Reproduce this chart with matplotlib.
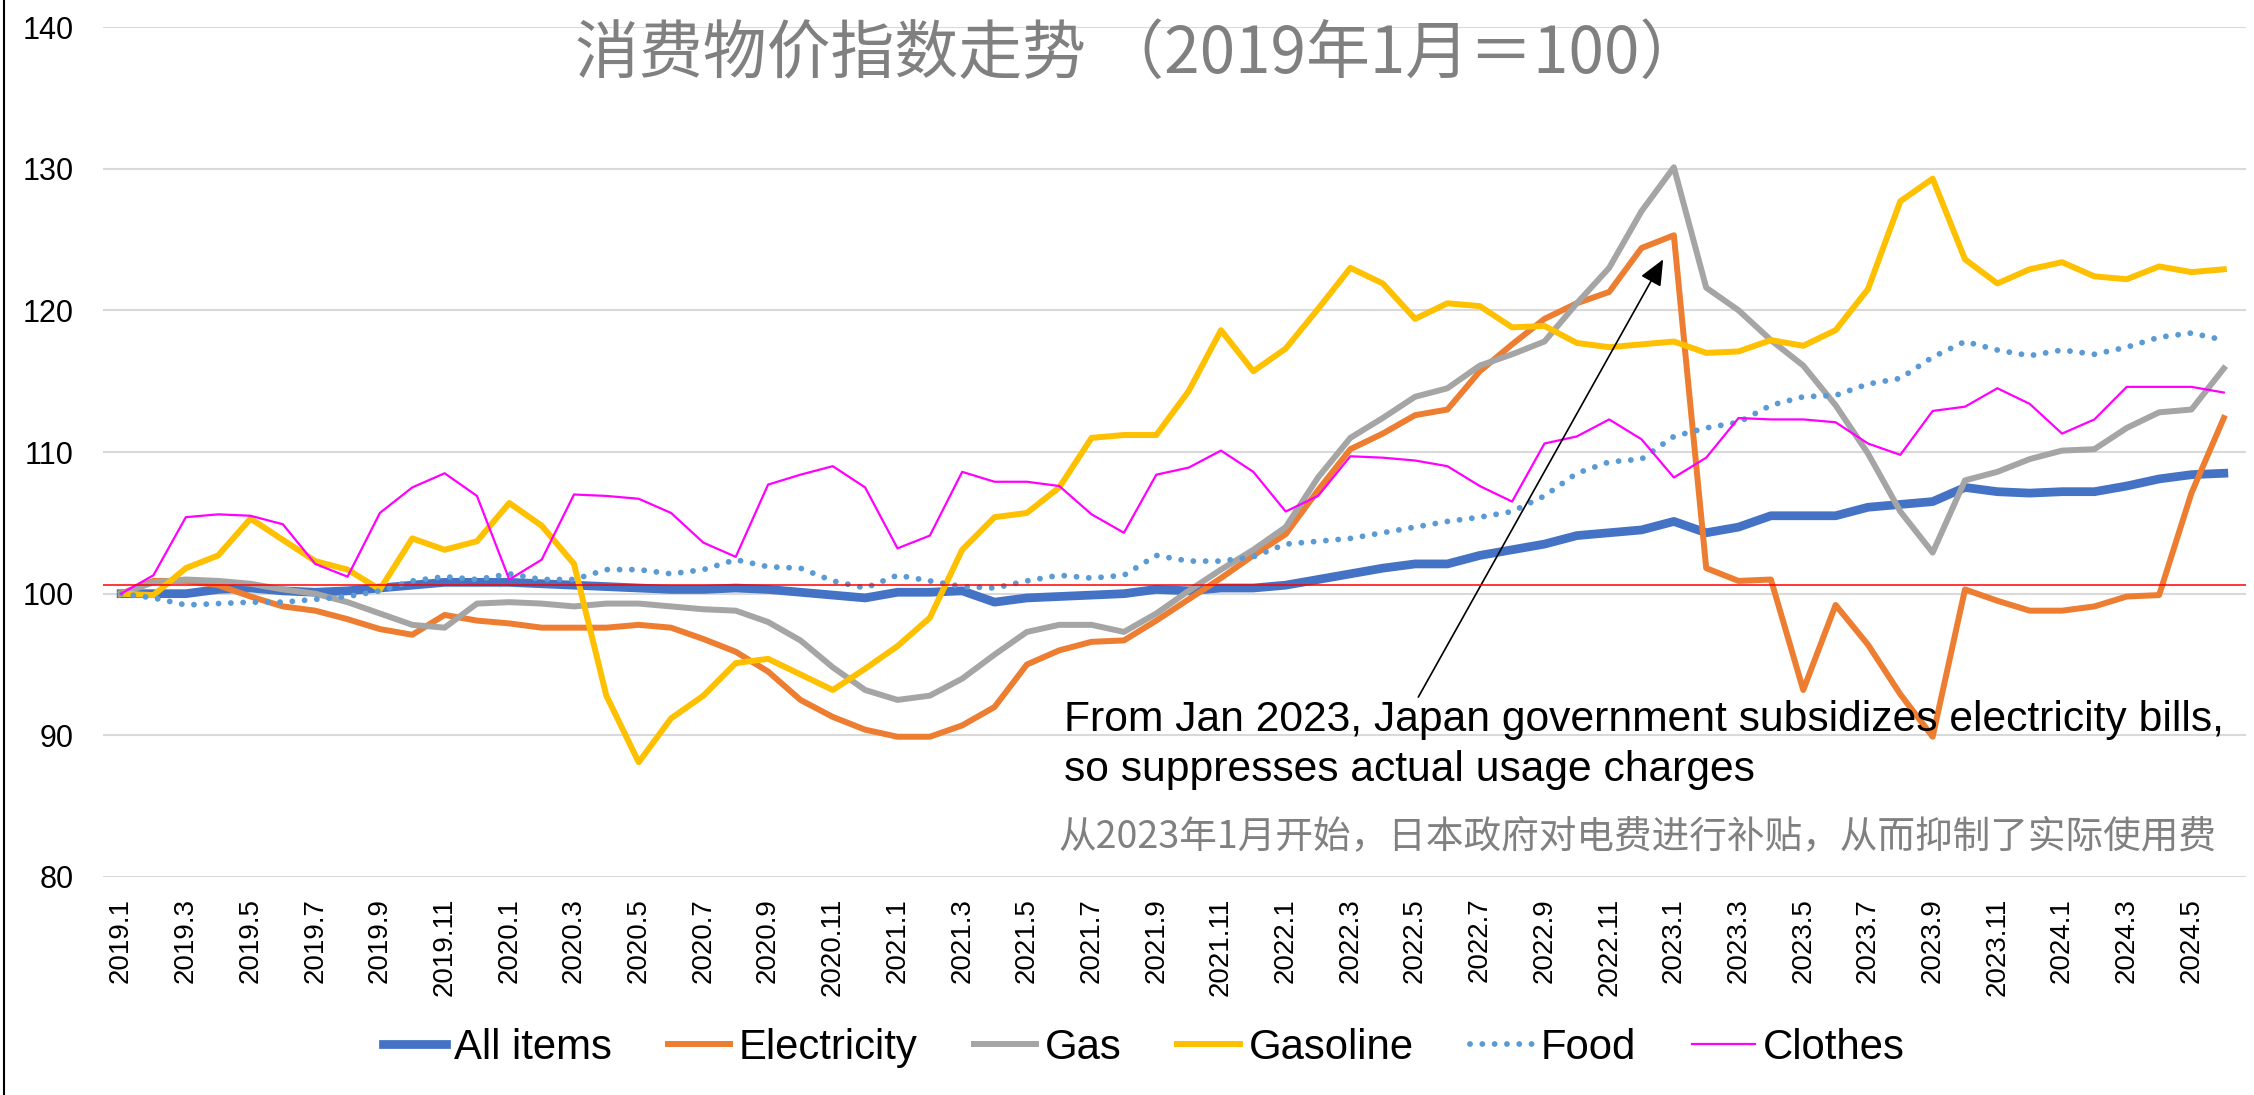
# -*- coding: utf-8 -*-
"""
Japan CPI by category, 2019.1 = 100
"""

import matplotlib
matplotlib.use('Agg')
import matplotlib.pyplot as plt

plt.rcParams['font.family'] = ['Liberation Sans', 'Noto Sans CJK SC']

# monthly labels 2019.1 .. 2024.6
months = [f'{y}.{m}' for y in range(2019, 2025) for m in range(1, 13)][:66]

all_items = [100.0, 100.0, 100.0, 100.3, 100.4, 100.2, 100.1, 100.2, 100.4, 100.6,
             100.8, 100.8, 100.8, 100.7, 100.6, 100.5, 100.4, 100.3, 100.3, 100.4,
             100.3, 100.1, 99.9, 99.7, 100.1, 100.1, 100.2, 99.4, 99.7, 99.8,
             99.9, 100.0, 100.3, 100.2, 100.4, 100.4, 100.6, 101.0, 101.4, 101.8,
             102.1, 102.1, 102.7, 103.1, 103.5, 104.1, 104.3, 104.5, 105.1, 104.3,
             104.7, 105.5, 105.5, 105.5, 106.1, 106.3, 106.5, 107.5, 107.2, 107.1,
             107.2, 107.2, 107.6, 108.1, 108.4, 108.5]
electricity = [100.0, 100.9, 100.9, 100.6, 99.8, 99.1, 98.8, 98.2, 97.5, 97.1,
               98.5, 98.1, 97.9, 97.6, 97.6, 97.6, 97.8, 97.6, 96.8, 95.9,
               94.5, 92.5, 91.3, 90.4, 89.9, 89.9, 90.7, 92.0, 95.0, 96.0,
               96.6, 96.7, 98.1, 99.6, 101.1, 102.7, 104.2, 107.3, 110.2, 111.3,
               112.6, 113.0, 115.7, 117.6, 119.4, 120.5, 121.3, 124.4, 125.3, 101.8,
               100.9, 101.0, 93.2, 99.2, 96.4, 92.9, 89.9, 100.3, 99.5, 98.8,
               98.8, 99.1, 99.8, 99.9, 107.1, 112.4]
gas = [100.0, 100.8, 101.0, 100.9, 100.7, 100.3, 100.0, 99.4, 98.6, 97.8,
       97.6, 99.3, 99.4, 99.3, 99.1, 99.3, 99.3, 99.1, 98.9, 98.8,
       98.0, 96.7, 94.8, 93.2, 92.5, 92.8, 94.0, 95.7, 97.3, 97.8,
       97.8, 97.3, 98.6, 100.2, 101.7, 103.1, 104.7, 108.2, 111.0, 112.4,
       113.9, 114.5, 116.1, 116.9, 117.8, 120.5, 123.0, 127.0, 130.1, 121.6,
       120.0, 117.9, 116.1, 113.3, 109.9, 105.8, 102.9, 108.0, 108.6, 109.5,
       110.1, 110.2, 111.7, 112.8, 113.0, 115.9]
gasoline = [100.0, 99.9, 101.8, 102.7, 105.3, 103.8, 102.3, 101.7, 100.3, 103.9,
            103.1, 103.7, 106.4, 104.8, 102.1, 92.8, 88.1, 91.2, 92.8, 95.1,
            95.4, 94.3, 93.2, 94.7, 96.3, 98.3, 103.1, 105.4, 105.7, 107.5,
            111.0, 111.2, 111.2, 114.3, 118.6, 115.7, 117.3, 120.1, 123.0, 121.9,
            119.4, 120.5, 120.3, 118.8, 118.9, 117.7, 117.4, 117.6, 117.8, 117.0,
            117.1, 117.9, 117.5, 118.6, 121.5, 127.7, 129.3, 123.6, 121.9, 122.9,
            123.4, 122.4, 122.2, 123.1, 122.7, 122.9]
food = [100.0, 99.7, 99.2, 99.3, 99.4, 99.4, 99.6, 99.8, 100.2, 100.9,
        101.2, 101.0, 101.4, 101.0, 101.0, 101.7, 101.7, 101.4, 101.7, 102.4,
        101.9, 101.8, 100.9, 100.4, 101.3, 100.9, 100.5, 100.4, 100.9, 101.3,
        101.1, 101.3, 102.7, 102.3, 102.3, 102.6, 103.5, 103.7, 103.9, 104.3,
        104.7, 105.1, 105.4, 105.8, 106.9, 108.5, 109.3, 109.5, 111.1, 111.7,
        112.1, 113.3, 113.9, 114.0, 114.8, 115.2, 116.7, 117.8, 117.2, 116.8,
        117.2, 116.9, 117.4, 118.1, 118.4, 117.9]
clothes = [100.0, 101.3, 105.4, 105.6, 105.5, 104.9, 102.1, 101.2, 105.7, 107.5,
           108.5, 106.9, 101.0, 102.4, 107.0, 106.9, 106.7, 105.7, 103.6, 102.6,
           107.7, 108.4, 109.0, 107.5, 103.2, 104.1, 108.6, 107.9, 107.9, 107.6,
           105.6, 104.3, 108.4, 108.9, 110.1, 108.6, 105.8, 106.9, 109.7, 109.6,
           109.4, 109.0, 107.6, 106.5, 110.6, 111.1, 112.3, 110.9, 108.2, 109.6,
           112.4, 112.3, 112.3, 112.1, 110.6, 109.8, 112.9, 113.2, 114.5, 113.4,
           111.3, 112.3, 114.6, 114.6, 114.6, 114.2]

ref_level = 100.6          # hand-drawn red reference line
arrow_from = (40.1, 92.7)  # annotation arrow, data coords
arrow_to = (47.67, 123.6)

x = list(range(len(months)))

fig = plt.figure(figsize=(22.54, 10.95), dpi=100)
ax = fig.add_axes([0.0457, 0.1991, 0.9508, 0.7762])

ax.plot(x, all_items, color='#4472C4', lw=6.3, label='All items', solid_joinstyle='round')
ax.plot(x, electricity, color='#ED7D31', lw=4.3, label='Electricity', solid_joinstyle='round')
ax.plot(x, gas, color='#A5A5A5', lw=4.3, label='Gas', solid_joinstyle='round')
ax.plot(x, gasoline, color='#FFC000', lw=4.3, label='Gasoline', solid_joinstyle='round')
ax.plot(x, food, color='#5B9BD5', lw=4.2, ls=(0, (0.01, 2.1)), dash_capstyle='round', label='Food')
ax.plot(x, clothes, color='#FF00FF', lw=1.6, label='Clothes')
ax.axhline(ref_level, color='red', lw=1.1, zorder=5)

ax.set_xlim(-0.56, 65.69)
ax.set_ylim(80, 140)
ax.set_yticks(range(80, 141, 10))
ax.set_xticks(x[::2])
ax.set_xticklabels(months[::2], rotation=90, fontsize=20)
ax.tick_params(axis='y', labelsize=22, length=0, pad=21)
ax.tick_params(axis='x', length=0, pad=15)
ax.grid(axis='y', color='#d9d9d9', lw=1.5)
ax.set_axisbelow(True)
for s in ax.spines.values():
    s.set_visible(False)

fig.text(0.5055, 0.950, '消费物价指数走势 （2019年1月＝100）', fontsize=46, color='#808080',
         ha='center', va='center', family=['Noto Sans CJK SC', 'DejaVu Sans'])

ax.annotate('', xy=arrow_to, xytext=arrow_from,
            arrowprops=dict(arrowstyle='-|>,head_length=0.8,head_width=0.35',
                            color='black', lw=1.2, mutation_scale=20, shrinkA=0, shrinkB=0))
fig.text(0.472, 0.3324, 'From Jan 2023, Japan government subsidizes electricity bills,',
         fontsize=30.7, va='baseline', ha='left')
fig.text(0.472, 0.2868, 'so suppresses actual usage charges', fontsize=30.7, va='baseline', ha='left')
fig.text(0.4698, 0.2347, '从2023年1月开始，日本政府对电费进行补贴，从而抑制了实际使用费',
         fontsize=27.1, color='#808080', va='center', ha='left',
         family=['Noto Sans CJK SC', 'DejaVu Sans'])

fig.legend(loc='center', bbox_to_anchor=(0.5075, 0.043), ncol=6, frameon=False,
           fontsize=30.2, handlelength=1.5, handletextpad=0.2, columnspacing=1.33)

# left border of the chart frame
fig.add_artist(plt.Line2D([0.0018, 0.0018], [0, 1], color='black', lw=1.5))

plt.savefig('out.png', dpi=100)
